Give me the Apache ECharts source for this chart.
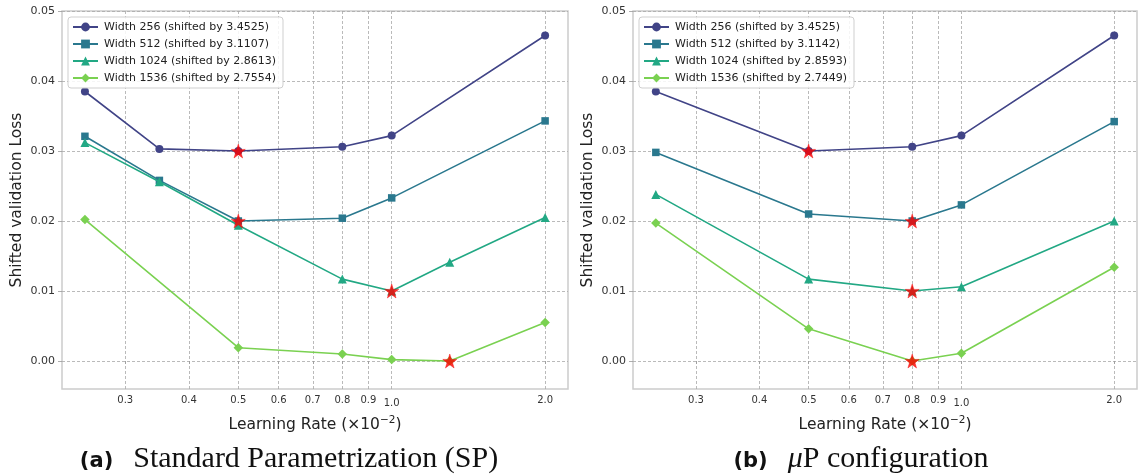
<!DOCTYPE html>
<html>
<head>
<meta charset="utf-8">
<title>Shifted validation loss vs learning rate</title>
<script src="https://cdn.jsdelivr.net/npm/echarts@6/dist/echarts.min.js"></script>
<style>
html, body { margin: 0; padding: 0; background: #fff; }
#chart { width: 1138px; height: 474px; }
</style>
</head>
<body>
<div id="chart"></div>
<script>
// learning rates (x10^-2)
var lrSP = [0.25, 0.35, 0.5, 0.8, 1.0, 1.3, 2.0];
var lrMuP = [0.25, 0.5, 0.8, 1.0, 2.0];

// (a) standard parametrization, null = not measured
var sp256 = [0.0385, 0.0303, 0.0300, 0.0306, 0.0322, null, 0.0465];
var sp512 = [0.0321, 0.0258, 0.0200, 0.0204, 0.0233, null, 0.0343];
var sp1024 = [0.0312, 0.0256, 0.0194, 0.0117, 0.0100, 0.0141, 0.0205];
var sp1536 = [0.0202, null, 0.0019, 0.0010, 0.0002, 0.0000, 0.0055];

// (b) muP configuration
var mup256 = [0.0385, 0.0300, 0.0306, 0.0322, 0.0465];
var mup512 = [0.0298, 0.0210, 0.0200, 0.0223, 0.0342];
var mup1024 = [0.0238, 0.0117, 0.0100, 0.0106, 0.0200];
var mup1536 = [0.0197, 0.0046, 0.0000, 0.0011, 0.0134];

var namesSP = ['Width 256 (shifted by 3.4525)', 'Width 512 (shifted by 3.1107)',
               'Width 1024 (shifted by 2.8613)', 'Width 1536 (shifted by 2.7554)'];
var namesMuP = ['Width 256 (shifted by 3.4525)', 'Width 512 (shifted by 3.1142)',
                'Width 1024 (shifted by 2.8593)', 'Width 1536 (shifted by 2.7449)'];

var xTicks = [0.3, 0.4, 0.5, 0.6, 0.7, 0.8, 0.9, 1.0, 2.0];
var yTicks = [0, 0.01, 0.02, 0.03, 0.04, 0.05];

var colors = ['#414487', '#2a788e', '#22a884', '#7ad151'];
var symbols = ['circle', 'rect', 'triangle', 'diamond'];
var symbolSizes = [8, 7.5, 9, 9.5];
var STAR = 'path://M50,0 L61.8,35.1 L97.6,35.1 L68.7,56.8 L79.4,90.9 L50,69.5 L20.6,90.9 L31.3,56.8 L2.4,35.1 L38.2,35.1 Z';

function pairs(lr, loss) {
    var out = [];
    for (var i = 0; i < lr.length; i++) {
        if (loss[i] !== null) out.push([lr[i], loss[i]]);
    }
    return out;
}

// point with the lowest loss of a run
function best(lr, loss) {
    var b = null;
    for (var i = 0; i < lr.length; i++) {
        if (loss[i] === null) continue;
        if (b === null || loss[i] < b[1]) b = [lr[i], loss[i]];
    }
    return b;
}

var gridLine = { show: true, lineStyle: { color: '#a8a8a8', width: 0.8, type: [3, 2] } };

function xAxisFor(idx) {
    return {
        type: 'log', logBase: 10, gridIndex: idx, min: 0.2254, max: 2.218,
        name: 'Learning Rate (×10{sup|−2})', nameLocation: 'middle', nameGap: 26,
        nameTextStyle: {
            fontFamily: 'DejaVu Sans', fontSize: 15.5, color: '#222',
            rich: { sup: { fontFamily: 'DejaVu Sans', fontSize: 10.5, color: '#222', padding: [0, 0, 9, 0] } }
        },
        axisLine: { show: false },
        axisTick: { show: true, length: 3, customValues: xTicks, lineStyle: { color: '#999', width: 0.8 } },
        axisLabel: {
            customValues: xTicks, fontFamily: 'DejaVu Sans', fontSize: 10, color: '#333', margin: 6,
            formatter: function (v) { return v === 1 ? '{maj|1.0}' : v.toFixed(1); },
            rich: { maj: { fontFamily: 'DejaVu Sans', fontSize: 10, color: '#333', padding: [3, 0, 0, 0] } }
        },
        splitLine: gridLine
    };
}

function yAxisFor(idx) {
    return {
        type: 'value', gridIndex: idx, min: -0.004, max: 0.05,
        name: 'Shifted validation Loss', nameLocation: 'middle', nameGap: 37, nameRotate: 90,
        nameTextStyle: { fontFamily: 'DejaVu Sans', fontSize: 15.5, color: '#222' },
        axisLine: { show: false },
        axisTick: { show: true, length: 4, customValues: yTicks, lineStyle: { color: '#999', width: 0.8 } },
        axisLabel: {
            customValues: yTicks, fontFamily: 'DejaVu Sans', fontSize: 11, color: '#333', margin: 7,
            formatter: function (v) { return v.toFixed(2); }
        },
        splitLine: gridLine
    };
}

function legendFor(names, left) {
    return {
        data: names, orient: 'vertical', left: left, top: 17,
        itemWidth: 25, itemHeight: 11, itemGap: 3,
        padding: [3, 7, 3, 4],
        backgroundColor: 'rgba(255,255,255,0.85)', borderColor: '#cfcfcf', borderWidth: 1, borderRadius: 3,
        textStyle: { fontFamily: 'DejaVu Sans', fontSize: 11, color: '#222', lineHeight: 14, padding: [0, 0, 0, 1] }
    };
}

var runs = [
    { grid: 0, lr: lrSP, losses: [sp256, sp512, sp1024, sp1536], names: namesSP },
    { grid: 1, lr: lrMuP, losses: [mup256, mup512, mup1024, mup1536], names: namesMuP }
];

var series = [];
runs.forEach(function (run) {
    run.losses.forEach(function (loss, k) {
        series.push({
            type: 'line', name: run.names[k], xAxisIndex: run.grid, yAxisIndex: run.grid,
            data: pairs(run.lr, loss), color: colors[k],
            symbol: symbols[k], symbolSize: symbolSizes[k], showAllSymbol: true,
            lineStyle: { width: 1.6, color: colors[k] },
            itemStyle: { color: colors[k] },
            animation: false, z: 3 + k
        });
    });
    series.push({
        type: 'scatter', name: 'best', xAxisIndex: run.grid, yAxisIndex: run.grid,
        data: run.losses.map(function (loss) { return best(run.lr, loss); }),
        symbol: STAR, symbolSize: 14,
        itemStyle: { color: '#ff0000', borderColor: '#ee0000', borderWidth: 0.5 },
        animation: false, z: 10
    });
});

var capBold = { fontFamily: 'DejaVu Sans', fontWeight: 'bold', fontSize: 21, fill: '#111', padding: [6, 20, 0, 0] };

var chart = echarts.init(document.getElementById('chart'), null, { renderer: 'canvas' });
chart.setOption({
    backgroundColor: '#ffffff',
    animation: false,
    grid: [
        { left: 62, right: 570, top: 11, bottom: 85, show: true, borderColor: '#cccccc', borderWidth: 1.5, backgroundColor: '#ffffff' },
        { left: 633, right: 1, top: 11, bottom: 85, show: true, borderColor: '#cccccc', borderWidth: 1.5, backgroundColor: '#ffffff' }
    ],
    legend: [legendFor(namesSP, 68), legendFor(namesMuP, 639)],
    xAxis: [xAxisFor(0), xAxisFor(1)],
    yAxis: [yAxisFor(0), yAxisFor(1)],
    series: series,
    graphic: [
        {
            type: 'text', x: 289, y: 459,
            style: {
                text: '{b|(a)}{s|Standard Parametrization (SP)}',
                align: 'center', verticalAlign: 'middle',
                rich: {
                    b: capBold,
                    s: { fontFamily: 'Liberation Serif', fontSize: 30, fill: '#111' }
                }
            }
        },
        {
            type: 'text', x: 861, y: 459,
            style: {
                text: '{b|(b)}{i|μ}{s|P configuration}',
                align: 'center', verticalAlign: 'middle',
                rich: {
                    b: capBold,
                    s: { fontFamily: 'Liberation Serif', fontSize: 30, fill: '#111' },
                    i: { fontFamily: 'Liberation Serif', fontStyle: 'italic', fontSize: 30, fill: '#111' }
                }
            }
        }
    ]
});
</script>
</body>
</html>
